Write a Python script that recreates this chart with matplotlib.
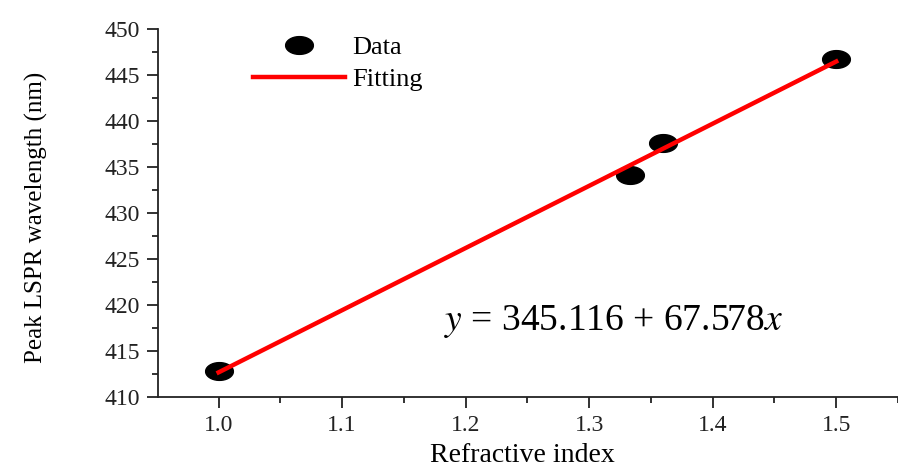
import numpy as np
import matplotlib.pyplot as plt
from matplotlib.ticker import MultipleLocator

# Data
refractive_index = [1.0, 1.333, 1.36, 1.5]
peak_wavelength = [412.8, 434.1, 437.6, 446.8]
fit_intercept = 345.116
fit_slope = 67.578
fit_x = [1.0, 1.5]

plt.rcParams['font.family'] = 'Liberation Serif'
plt.rcParams['mathtext.fontset'] = 'stix'

# slightly flattened ellipse marker, like the original
t = np.linspace(0, 2 * np.pi, 40)
ellipse = list(zip(np.cos(t) * 1.0, np.sin(t) * 0.64))

fig = plt.figure(figsize=(8.98, 4.70), dpi=100)
ax = fig.add_axes([0.176, 0.155, 0.824, 0.783])

ax.plot(refractive_index, peak_wavelength, linestyle='none', marker=ellipse,
        markersize=20, color='black', label='Data', zorder=2)
fit_y = [fit_intercept + fit_slope * v for v in fit_x]
ax.plot(fit_x, fit_y, color='#ff0000', linewidth=3.2, label='Fitting', zorder=3)

ax.set_xlim(0.951, 1.55)
ax.set_ylim(410, 450)
ax.xaxis.set_major_locator(MultipleLocator(0.1))
ax.xaxis.set_minor_locator(MultipleLocator(0.05))
ax.yaxis.set_major_locator(MultipleLocator(5))
ax.yaxis.set_minor_locator(MultipleLocator(2.5))
ax.xaxis.set_major_formatter(plt.FormatStrFormatter('%.1f'))

for side in ['top', 'right']:
    ax.spines[side].set_visible(False)
for side in ['left', 'bottom']:
    ax.spines[side].set_linewidth(1.3)
    ax.spines[side].set_color('#222222')

ax.tick_params(which='major', direction='out', length=8, width=1.3,
               labelsize=17, colors='#222222', pad=5)
ax.tick_params(which='minor', direction='out', length=4, width=1.3, colors='#222222')

ax.set_xlabel('Refractive index', fontsize=20)
ax.set_ylabel('Peak LSPR wavelength (nm)', fontsize=18)
ax.xaxis.set_label_coords(0.492, -0.125)
ax.yaxis.set_label_coords(-0.149, 0.489)

ax.text(1.32, 418.2, r'$y$ = 345.116 + 67.578$x$', fontsize=27, ha='center', va='center')

ax.legend(loc='upper left', bbox_to_anchor=(0.114, 1.01), borderaxespad=0,
          frameon=False, fontsize=19, handlelength=3.5, handletextpad=0.25,
          labelspacing=0.3)

fig.savefig('out.png', dpi=100)
